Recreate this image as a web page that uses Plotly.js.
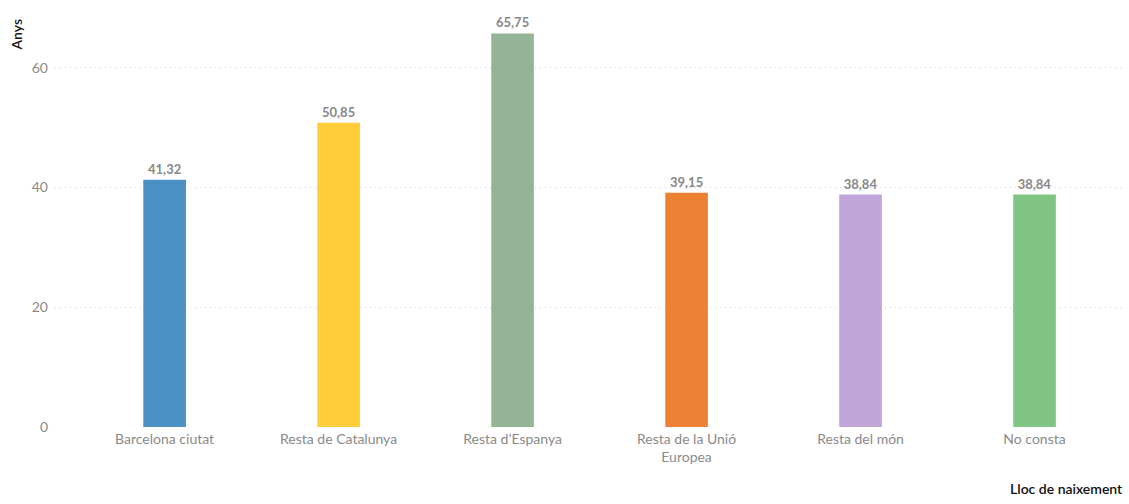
<!DOCTYPE html>
<html><head><meta charset="utf-8">
<script src="https://cdn.plot.ly/plotly-3.0.1.min.js"></script>
<style>body{margin:0;background:#fff}#c{width:1129px;height:504px}</style>
</head><body><div id="c"></div>
<script>
const categories = ["Barcelona ciutat","Resta de Catalunya","Resta d’Espanya","Resta de la Unió<br>Europea","Resta del món","No consta"];
const values = [41.32, 50.85, 65.75, 39.15, 38.84, 38.84];
const labels = ["41,32","50,85","65,75","39,15","38,84","38,84"];
const colors = ["#4a90c2","#ffcc3a","#95b496","#ec8033","#bfa5d8","#80c583"];
const yTicks = [0,20,40,60];

const font = "Lato, 'Open Sans', sans-serif";
Plotly.newPlot('c', [{
  type:'bar', x:categories, y:values, width:0.245,
  marker:{color:colors, line:{width:0}},
  text:labels, textposition:'outside', cliponaxis:false,
  textfont:{family:font, size:13, color:'#888', weight:'bold'},
  hoverinfo:'none'
}], {
  width:1129, height:504,
  margin:{l:55, r:4, t:20, b:77},
  paper_bgcolor:'#fff', plot_bgcolor:'#fff',
  font:{family:font, size:14, color:'#888'},
  showlegend:false,
  xaxis:{type:'category', range:[-0.63,5.52], showgrid:false, showline:false, ticks:'', ticklabelstandoff:2, tickfont:{size:14,color:'#8a8a8a'}},
  yaxis:{range:[0,68], tickvals:yTicks, showgrid:true, gridcolor:'#d0d0d0', griddash:'1px,4px', zeroline:false, showline:false, ticks:'', ticklabelstandoff:6, tickfont:{size:14,color:'#8a8a8a'}},
  annotations:[
    {text:'Anys', xref:'paper', yref:'paper', x:-0.036, y:1.0, xanchor:'center', yanchor:'top', yshift:4, textangle:-90, showarrow:false, font:{family:font, size:14, color:'#111', weight:600}},
    {text:'Lloc de naixement', xref:'paper', yref:'paper', x:1, y:0, xanchor:'right', yanchor:'bottom', yshift:-72, showarrow:false, font:{family:font, size:14, color:'#111', weight:600}}
  ]
}, {displayModeBar:false, staticPlot:true});
</script></body></html>
